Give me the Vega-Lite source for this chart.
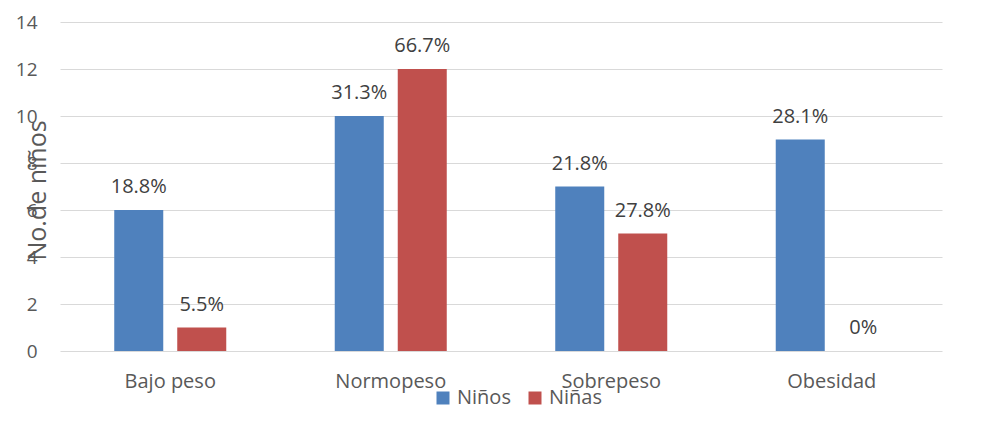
{
  "$schema": "https://vega.github.io/schema/vega-lite/v6.json",
  "autosize": {"type": "none"},
  "width": 882,
  "height": 329,
  "padding": {"left": 60, "top": 22, "right": 66, "bottom": 80},
  "background": "white",
  "config": {
    "font": "Open Sans",
    "view": {"stroke": null},
    "axis": {"labelFont": "Open Sans", "titleFont": "Open Sans", "labelColor": "#595959", "titleColor": "#595959"},
    "legend": {"labelFont": "Open Sans"}
  },
  "data": {
    "values": [
      {"categoria": "Bajo peso", "sexo": "Niños", "valor": 6, "pct": "18.8%"},
      {"categoria": "Bajo peso", "sexo": "Niñas", "valor": 1, "pct": "5.5%"},
      {"categoria": "Normopeso", "sexo": "Niños", "valor": 10, "pct": "31.3%"},
      {"categoria": "Normopeso", "sexo": "Niñas", "valor": 12, "pct": "66.7%"},
      {"categoria": "Sobrepeso", "sexo": "Niños", "valor": 7, "pct": "21.8%"},
      {"categoria": "Sobrepeso", "sexo": "Niñas", "valor": 5, "pct": "27.8%"},
      {"categoria": "Obesidad", "sexo": "Niños", "valor": 9, "pct": "28.1%"},
      {"categoria": "Obesidad", "sexo": "Niñas", "valor": 0, "pct": "0%"}
    ]
  },
  "encoding": {
    "x": {
      "field": "categoria",
      "type": "nominal",
      "sort": ["Bajo peso", "Normopeso", "Sobrepeso", "Obesidad"],
      "scale": {"paddingInner": 0.492, "paddingOuter": 0.246},
      "axis": {
        "title": null,
        "labelAngle": 0,
        "labelFontSize": 20,
        "labelPadding": 20,
        "ticks": false,
        "domain": false
      }
    },
    "xOffset": {
      "field": "sexo",
      "type": "nominal",
      "sort": ["Niños", "Niñas"],
      "scale": {"paddingInner": 0.222, "paddingOuter": 0}
    },
    "y": {
      "field": "valor",
      "type": "quantitative",
      "scale": {"domain": [0, 14], "nice": false},
      "axis": {
        "values": [0, 2, 4, 6, 8, 10, 12, 14],
        "title": "No.de niños",
        "titleFontSize": 25,
        "titleFontWeight": "normal",
        "titleAngle": -90,
        "titleBaseline": "middle",
        "titleAlign": "center",
        "titleX": -23,
        "titleY": 168,
        "labelFontSize": 19,
        "labelPadding": 23,
        "ticks": false,
        "domain": false,
        "grid": true,
        "gridColor": "#d9d9d9",
        "gridWidth": 1
      }
    }
  },
  "layer": [
    {
      "mark": {"type": "bar"},
      "encoding": {
        "color": {
          "field": "sexo",
          "type": "nominal",
          "sort": ["Niños", "Niñas"],
          "scale": {"domain": ["Niños", "Niñas"], "range": ["#4F81BD", "#C0504D"]},
          "legend": {
            "title": null,
            "orient": "none",
            "direction": "horizontal",
            "legendX": 373,
            "legendY": 366,
            "symbolType": "square",
            "symbolSize": 169,
            "symbolStrokeWidth": 0,
            "labelFontSize": 20,
            "labelColor": "#595959",
            "columnPadding": 14,
            "labelOffset": 4
          }
        }
      }
    },
    {
      "mark": {"type": "text", "baseline": "alphabetic", "dy": -17, "fontSize": 20, "color": "#404040"},
      "encoding": {"text": {"field": "pct", "type": "nominal"}}
    }
  ]
}
